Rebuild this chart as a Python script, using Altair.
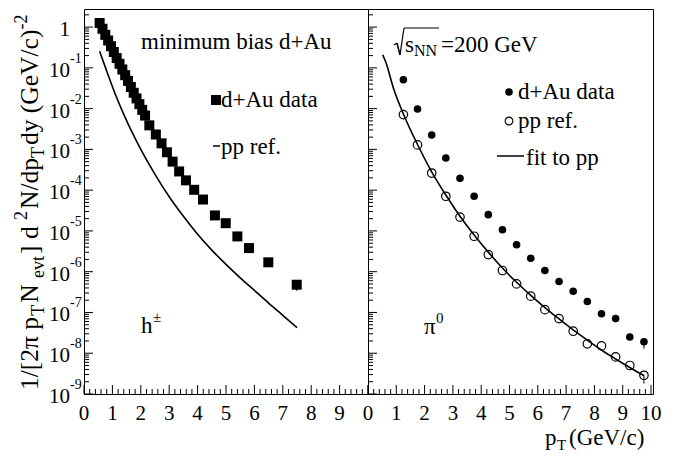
import altair as alt
import pandas as pd

FONT = "Liberation Serif, Times New Roman, serif"

# ---------------- data ----------------
# left panel : h+- , minimum bias d+Au
h_dau_pt = [0.55, 0.65, 0.75, 0.85, 0.95, 1.05, 1.15, 1.25, 1.35, 1.45, 1.55, 1.65, 1.75,
            1.85, 1.95, 2.05, 2.15, 2.30, 2.53, 2.73, 2.92, 3.12, 3.35, 3.59, 3.88, 4.19,
            4.61, 4.99, 5.40, 5.81, 6.49, 7.49]
h_dau = [1.26, 0.912, 0.646, 0.468, 0.339, 0.245, 0.174, 0.126, 0.0912, 0.0661, 0.0479,
         0.0339, 0.0245, 0.0178, 0.0129, 0.00933, 0.00676, 3.89e-3, 2.32e-3, 1.41e-3,
         8.51e-4, 5.01e-4, 2.88e-4, 1.74e-4, 1.02e-4, 5.89e-5, 2.40e-5, 1.55e-5, 7.33e-6,
         3.80e-6, 1.70e-6, 4.79e-7]
h_pp_pt = [0.55, 0.8, 1.1, 1.4, 1.7, 2.0, 2.5, 3.0, 3.5, 4.0, 4.5, 5.0, 5.5, 6.0, 6.5, 7.0, 7.5]
h_pp = [0.257, 0.0832, 0.0229, 7.24e-3, 2.57e-3, 1.0e-3, 2.45e-4, 6.92e-5, 2.29e-5,
        8.32e-6, 3.39e-6, 1.51e-6, 7.08e-7, 3.47e-7, 1.70e-7, 8.51e-8, 4.27e-8]
h_err_pt = [7.49]
h_err_lo = [3.4e-7]
h_err_hi = [4.79e-7]

# right panel : pi0
pi_pt = [1.25, 1.75, 2.25, 2.75, 3.25, 3.75, 4.25, 4.75, 5.25, 5.75, 6.25, 6.75, 7.25,
         7.75, 8.25, 8.75, 9.25, 9.75]
pi_dau = [0.0513, 9.77e-3, 2.26e-3, 6.17e-4, 1.95e-4, 7.08e-5, 2.51e-5, 1.07e-5, 4.57e-6,
          2.14e-6, 1.07e-6, 5.75e-7, 3.31e-7, 1.86e-7, 9.33e-8, 7.08e-8, 2.51e-8, 1.91e-8]
pi_pp = [7.16e-3, 1.29e-3, 2.63e-4, 7.08e-5, 2.19e-5, 7.41e-6, 2.63e-6, 1.07e-6, 5.01e-7,
         2.51e-7, 1.17e-7, 7.08e-8, 3.47e-8, 1.70e-8, 1.51e-8, 8.13e-9, 5.01e-9, 2.88e-9]
fit_pt = [0.52, 0.63, 0.9, 1.25, 1.75, 2.25, 2.75, 3.25, 3.75, 4.25, 4.75, 5.25, 5.75,
          6.25, 6.75, 7.25, 7.75, 8.25, 8.75, 9.25, 9.75]
fit_pp = [0.209, 0.138, 0.0316, 7.41e-3, 1.32e-3, 2.82e-4, 7.59e-5, 2.29e-5, 7.94e-6,
          3.02e-6, 1.23e-6, 5.50e-7, 2.63e-7, 1.32e-7, 6.92e-8, 3.72e-8, 2.09e-8,
          1.20e-8, 7.24e-9, 4.47e-9, 2.82e-9]
pi_err_pt = [9.75, 9.75]
pi_err_lo = [1.3e-8, 1.8e-9]
pi_err_hi = [1.91e-8, 2.88e-9]

# axes
y_major = [1e-9, 1e-8, 1e-7, 1e-6, 1e-5, 1e-4, 1e-3, 1e-2, 1e-1, 1.0]
y_base = ["10", "10", "10", "10", "10", "10", "10", "10", "10", "1"]
y_exp = ["-9", "-8", "-7", "-6", "-5", "-4", "-3", "-2", "-1", ""]
xL_labels = [0, 1, 2, 3, 4, 5, 6, 7, 8, 9]
xR_labels = [0, 1, 2, 3, 4, 5, 6, 7, 8, 9, 10]

# ---------------- layout ----------------
WL, WR, H = 284, 285, 385
Y_DOMAIN = [1e-9, 2.78]
yscale = alt.Scale(type="log", domain=Y_DOMAIN, nice=False)
xL = alt.Scale(domain=[0, 10], nice=False, zero=False)
xR = alt.Scale(domain=[0, 10.07], nice=False, zero=False)
TXT = 23

y_minor = [m * 10.0 ** e for e in range(-9, 1) for m in range(2, 10) if m * 10.0 ** e < Y_DOMAIN[1]]


def df(**cols):
    return pd.DataFrame(cols)


def txt(s, x, y, size=TXT, align="left", angle=0):
    return alt.Chart(df(s=[s])).mark_text(
        text=s, font=FONT, fontSize=size, align=align, baseline="alphabetic",
        color="black", angle=angle
    ).encode(x=alt.value(x), y=alt.value(y))


def seg(x1, y1, x2, y2, w=1.4):
    return alt.Chart(df(s=[0])).mark_rule(color="black", strokeWidth=w).encode(
        x=alt.value(x1), y=alt.value(y1), x2=alt.value(x2), y2=alt.value(y2))


def frame_layers(xs, xmax_minor):
    xmaj = [v for v in range(0, 11) if v <= xmax_minor]
    xmin = [i * 0.2 for i in range(0, 51) if i % 5 and i * 0.2 <= xmax_minor]
    lay = []
    lay.append(alt.Chart(df(v=xmaj)).mark_rule(color="black", strokeWidth=1).encode(
        x=alt.X("v:Q", scale=xs, axis=None), y=alt.value(H), y2=alt.value(H - 9)))
    lay.append(alt.Chart(df(v=xmin)).mark_rule(color="black", strokeWidth=1).encode(
        x=alt.X("v:Q", scale=xs, axis=None), y=alt.value(H), y2=alt.value(H - 5)))
    lay.append(alt.Chart(df(v=y_major)).mark_rule(color="black", strokeWidth=1).encode(
        y=alt.Y("v:Q", scale=yscale, axis=None), x=alt.value(0), x2=alt.value(9)))
    lay.append(alt.Chart(df(v=y_minor)).mark_rule(color="black", strokeWidth=1).encode(
        y=alt.Y("v:Q", scale=yscale, axis=None), x=alt.value(0), x2=alt.value(5)))
    return lay


def xlabels(vals, xs):
    return alt.Chart(df(v=vals, s=[str(v) for v in vals])).mark_text(
        font=FONT, fontSize=21, align="center", baseline="alphabetic", color="black"
    ).encode(x=alt.X("v:Q", scale=xs, axis=None), y=alt.value(H + 26), text="s:N")


# ---------------- left panel ----------------
left_layers = frame_layers(xL, 10)
left_layers.append(xlabels(xL_labels, xL))

# y tick labels
left_layers.append(alt.Chart(df(v=y_major, s=y_base)).mark_text(
    font=FONT, fontSize=21, align="right", baseline="middle", color="black", dy=3
).encode(y=alt.Y("v:Q", scale=yscale, axis=None), x=alt.value(-14), text="s:N"))
left_layers.append(alt.Chart(df(v=y_major, s=y_exp)).mark_text(
    font=FONT, fontSize=14, align="left", baseline="alphabetic", color="black", dy=-5
).encode(y=alt.Y("v:Q", scale=yscale, axis=None), x=alt.value(-14), text="s:N"))

# rotated y title built from pieces (sub/superscripts)
WID = {'1': .5, '/': .278, '[': .333, '2': .5, 'π': .55, ' ': .25, 'p': .5, 'T': .611,
       'N': .722, 'e': .444, 'v': .5, 't': .278, ']': .333, 'd': .5, 'y': .5, '(': .333,
       'G': .722, 'V': .722, 'c': .444, ')': .333, '-': .333}
pieces = [("1/[2π p", "m"), ("T", "sub"), (" N", "m"), ("evt", "sub"), ("]  d", "m"),
          ("2", "sup"), ("N/dp", "m"), ("T", "sub"), ("dy (GeV/c)", "m"), ("-2", "sup")]
TITLE_MAIN, TITLE_SMALL = 25.5, 18
base_x = -46
cur = 381
for s, kind in pieces:
    size = TITLE_MAIN if kind == "m" else TITLE_SMALL
    dx = 0 if kind == "m" else (6 if kind == "sub" else -11)
    left_layers.append(txt(s, base_x + dx, cur, size=size, angle=270))
    cur -= sum(WID[c] for c in s) * size + (2 if kind != "m" else 0)

# data
left_layers.append(alt.Chart(df(pt=h_pp_pt, y=h_pp)).mark_line(
    color="black", strokeWidth=1.6, interpolate="monotone").encode(
    x=alt.X("pt:Q", scale=xL, axis=None), y=alt.Y("y:Q", scale=yscale, axis=None)))
left_layers.append(alt.Chart(df(pt=h_err_pt, lo=h_err_lo, hi=h_err_hi)).mark_rule(
    color="black", strokeWidth=1).encode(
    x=alt.X("pt:Q", scale=xL, axis=None), y=alt.Y("lo:Q", scale=yscale, axis=None), y2="hi:Q"))
left_layers.append(alt.Chart(df(pt=h_dau_pt, y=h_dau)).mark_square(
    color="black", size=100, opacity=1).encode(
    x=alt.X("pt:Q", scale=xL, axis=None), y=alt.Y("y:Q", scale=yscale, axis=None)))

# annotations
left_layers.append(txt("minimum bias d+Au", 57, 40))
left_layers.append(alt.Chart(df(s=[0])).mark_square(color="black", size=100, opacity=1).encode(
    x=alt.value(132), y=alt.value(91)))
left_layers.append(txt("d+Au data", 137, 98))
left_layers.append(seg(129, 137, 136, 137, w=1.5))
left_layers.append(txt("pp ref.", 137, 145))
left_layers.append(txt("h", 57, 324))
left_layers.append(txt("±", 69, 313, size=15))

left = alt.layer(*left_layers).properties(width=WL, height=H)

# ---------------- right panel ----------------
right_layers = frame_layers(xR, 10.07)
right_layers.append(xlabels(xR_labels, xR))

right_layers.append(alt.Chart(df(pt=fit_pt, y=fit_pp)).mark_line(
    color="black", strokeWidth=1.6, interpolate="monotone").encode(
    x=alt.X("pt:Q", scale=xR, axis=None), y=alt.Y("y:Q", scale=yscale, axis=None)))
right_layers.append(alt.Chart(df(pt=pi_err_pt, lo=pi_err_lo, hi=pi_err_hi)).mark_rule(
    color="black", strokeWidth=1).encode(
    x=alt.X("pt:Q", scale=xR, axis=None), y=alt.Y("lo:Q", scale=yscale, axis=None), y2="hi:Q"))
right_layers.append(alt.Chart(df(pt=pi_pt, y=pi_pp)).mark_point(
    shape="circle", filled=False, size=72, stroke="black", strokeWidth=1.2, opacity=1).encode(
    x=alt.X("pt:Q", scale=xR, axis=None), y=alt.Y("y:Q", scale=yscale, axis=None)))
right_layers.append(alt.Chart(df(pt=pi_pt, y=pi_dau)).mark_circle(
    color="black", size=58, opacity=1).encode(
    x=alt.X("pt:Q", scale=xR, axis=None), y=alt.Y("y:Q", scale=yscale, axis=None)))

# annotations: sqrt(s_NN)=200 GeV (radical drawn with strokes)
right_layers.append(seg(26, 36, 29, 34, w=1.2))
right_layers.append(seg(29, 34, 32, 46, w=1.6))
right_layers.append(seg(32, 46, 36, 19, w=1.2))
right_layers.append(seg(36, 19, 71, 19, w=1.2))
right_layers.append(txt("s", 37, 43))
right_layers.append(txt("NN", 46, 47, size=16))
right_layers.append(txt("=200 GeV", 73, 43))
right_layers.append(alt.Chart(df(s=[0])).mark_circle(color="black", size=58, opacity=1).encode(
    x=alt.value(141), y=alt.value(83)))
right_layers.append(txt("d+Au data", 150, 90))
right_layers.append(alt.Chart(df(s=[0])).mark_point(
    shape="circle", filled=False, size=60, stroke="black", strokeWidth=1.1, opacity=1).encode(
    x=alt.value(141), y=alt.value(112)))
right_layers.append(txt("pp ref.", 150, 119))
right_layers.append(seg(129, 147, 156, 147, w=1.5))
right_layers.append(txt("fit to pp", 158, 156))
right_layers.append(txt("π", 56, 325))
right_layers.append(txt("0", 68, 314, size=15))
right_layers.append(txt("p", 177, 436))
right_layers.append(txt("T", 189, 441, size=15))
right_layers.append(txt("(GeV/c)", 201, 436))

right = alt.layer(*right_layers).properties(width=WR, height=H)

chart = alt.hconcat(left, right, spacing=0, bounds="flush").properties(
    padding={"left": 4, "top": 0, "right": 5, "bottom": 0},
    background="white",
).configure_view(stroke="black", strokeWidth=1)

chart.save("out.html", embed_options={"renderer": "svg", "actions": False})
